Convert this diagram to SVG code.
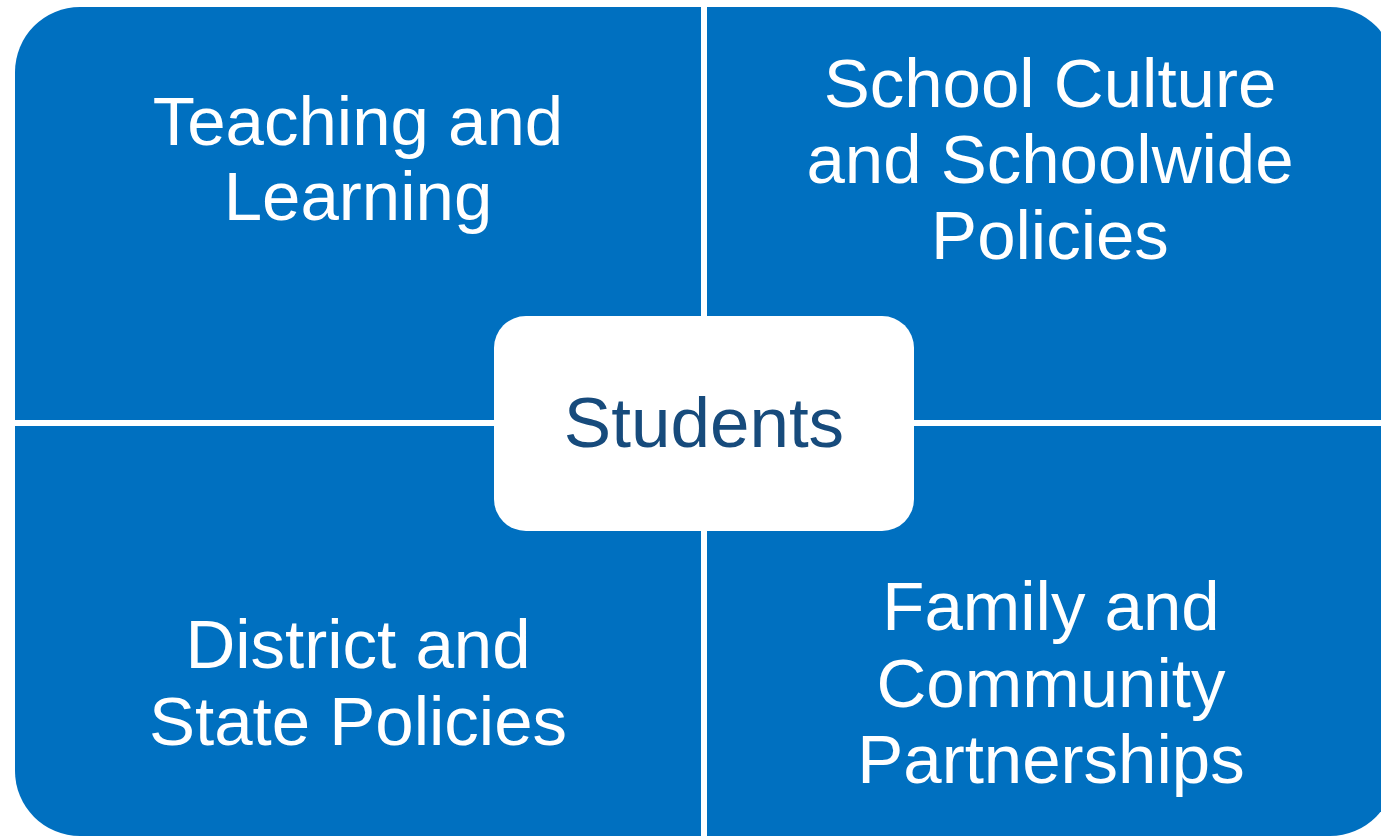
<svg xmlns="http://www.w3.org/2000/svg" width="1381" height="837" viewBox="0 0 1381 837">
  <style>
    .quad { fill: #0070C0; }
    .qtext { font-family: "Liberation Sans", Arial, sans-serif; font-size: 69px; fill: #FFFFFF; text-anchor: middle; }
    .center-box { fill: #FFFFFF; }
    .ctext { font-family: "Liberation Sans", Arial, sans-serif; font-size: 71px; fill: #174B7C; text-anchor: middle; }
  </style>
  <rect width="1381" height="837" fill="#FFFFFF"/>

  <!-- Top-left quadrant -->
  <g id="teaching-learning">
    <path class="quad" d="M15 72 A65 65 0 0 1 80 7 L701 7 L701 420 L15 420 Z"/>
    <text class="qtext" x="358" y="145">Teaching and</text>
    <text class="qtext" x="358" y="220">Learning</text>
  </g>

  <!-- Top-right quadrant -->
  <g id="school-culture">
    <path class="quad" d="M707 7 L1330 7 A65 65 0 0 1 1395 72 L1395 420 L707 420 Z"/>
    <text class="qtext" x="1050" y="107">School Culture</text>
    <text class="qtext" x="1050" y="183">and Schoolwide</text>
    <text class="qtext" x="1050" y="259">Policies</text>
  </g>

  <!-- Bottom-left quadrant -->
  <g id="district-state">
    <path class="quad" d="M15 426 L701 426 L701 836 L80 836 A65 65 0 0 1 15 771 Z"/>
    <text class="qtext" x="358" y="668">District and</text>
    <text class="qtext" x="358" y="745">State Policies</text>
  </g>

  <!-- Bottom-right quadrant -->
  <g id="family-community">
    <path class="quad" d="M707 426 L1395 426 L1395 771 A65 65 0 0 1 1330 836 L707 836 Z"/>
    <text class="qtext" x="1051" y="630">Family and</text>
    <text class="qtext" x="1051" y="707">Community</text>
    <text class="qtext" x="1051" y="783">Partnerships</text>
  </g>

  <!-- Central node -->
  <g id="students">
    <rect class="center-box" x="494" y="316" width="420" height="215" rx="32" ry="32"/>
    <text class="ctext" x="704" y="447">Students</text>
  </g>

  <g id="connectors"></g>
</svg>
